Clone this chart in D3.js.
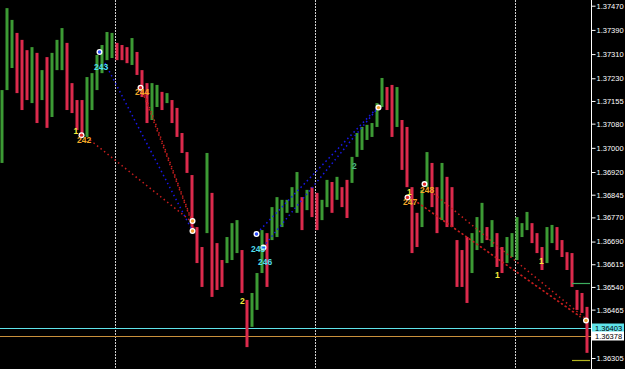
<!DOCTYPE html>
<html>
<head>
<meta charset="utf-8">
<script src="https://cdn.jsdelivr.net/npm/d3@7"></script>
<style>
  body { margin: 0; background: #000; }
  svg { display: block; }
</style>
</head>
<body>
<div id="chart-area"></div>
<script>
const WIDTH = 625
const HEIGHT = 369
const PLOT_RIGHT = 591

// bar highs / lows, one per 5px slot
const highs = [
  1.37191, 1.37462, 1.37423, 1.37380, 1.37357, 1.37323, 1.37333, 1.37314, 1.37257, 1.37300,
  1.37314, 1.37357, 1.37396, 1.37347, 1.37214, 1.37158, 1.37158, 1.37234, 1.37247, 1.37307,
  1.37340, 1.37383, 1.37380, 1.37347, 1.37340, 1.37333, 1.37363, 1.37317, 1.37257, 1.37214,
  1.37214, 1.37208, 1.37185, 1.37181, 1.37158, 1.37132, 1.37049, 1.36986, 1.36910, 1.36738,
  1.36672, 1.36983, 1.36851, 1.36685, 1.36629, 1.36705, 1.36751, 1.36761, 1.36662, 1.36497,
  1.36520, 1.36586, 1.36728, 1.36718, 1.36804, 1.36837, 1.36828, 1.36828, 1.36870, 1.36920,
  1.36837, 1.36861, 1.36870, 1.36851, 1.36828, 1.36894, 1.36887, 1.36904, 1.36870, 1.36894,
  1.36970, 1.37049, 1.37069, 1.37076, 1.37082, 1.37148, 1.37231, 1.37201, 1.37208, 1.37201,
  1.37092, 1.37069, 1.36870, 1.36785, 1.36861, 1.36986, 1.36950, 1.36870, 1.36950, 1.36904,
  1.36870, 1.36695, 1.36662, 1.36705, 1.36718, 1.36771, 1.36818, 1.36738, 1.36761, 1.36718,
  1.36672, 1.36705, 1.36718, 1.36771, 1.36751, 1.36788, 1.36751, 1.36718, 1.36672, 1.36738,
  1.36745, 1.36738, 1.36695, 1.36655, 1.36652, 1.36530, 1.36520, 1.36474
]
const lows = [
  1.36950, 1.37191, 1.37264, 1.37181, 1.37125, 1.37158, 1.37148, 1.37082, 1.37158, 1.37066,
  1.37102, 1.37257, 1.37257, 1.37125, 1.37115, 1.37059, 1.37036, 1.37036, 1.37125, 1.37191,
  1.37247, 1.37290, 1.37297, 1.37290, 1.37290, 1.37280, 1.37274, 1.37241, 1.37168, 1.37082,
  1.37092, 1.37135, 1.37125, 1.37148, 1.37082, 1.37036, 1.36983, 1.36917, 1.36718, 1.36619,
  1.36540, 1.36718, 1.36507, 1.36530, 1.36540, 1.36619, 1.36629, 1.36652, 1.36520, 1.36341,
  1.36408, 1.36464, 1.36586, 1.36540, 1.36695, 1.36705, 1.36738, 1.36785, 1.36804, 1.36785,
  1.36728, 1.36794, 1.36771, 1.36728, 1.36761, 1.36804, 1.36785, 1.36828, 1.36804, 1.36768,
  1.36884, 1.36970, 1.36993, 1.37026, 1.37036, 1.37069, 1.37135, 1.37125, 1.37036, 1.37069,
  1.36927, 1.36870, 1.36652, 1.36672, 1.36738, 1.36870, 1.36804, 1.36718, 1.36761, 1.36738,
  1.36738, 1.36540, 1.36540, 1.36487, 1.36586, 1.36662, 1.36685, 1.36695, 1.36672, 1.36606,
  1.36586, 1.36619, 1.36639, 1.36629, 1.36705, 1.36728, 1.36685, 1.36652, 1.36596, 1.36619,
  1.36685, 1.36662, 1.36639, 1.36596, 1.36540, 1.36464, 1.36454, 1.36322
]

// price axis labels
const tickPrices = [1.37470, 1.37390, 1.37310, 1.37230, 1.37155, 1.37080, 1.37000,
  1.36920, 1.36845, 1.36770, 1.36690, 1.36615, 1.36540, 1.36465, 1.36305]

// dotted period separators (bar index)
const sessionBreaks = [23, 63, 103]

// full width price lines + their boxes
const priceLines = [
  { price: 1.36403, color: "#5fe3ea" },
  { price: 1.36378, color: "#c8903c" }
]
const priceBoxes = [
  { price: 1.36403, fill: "#5fe3ea" },
  { price: 1.36378, fill: "#ffffff" }
]

// short level lines at the right edge
const levelLines = [
  { price: 1.36553, from: 114.4, to: 118, color: "#3cae5e" },
  { price: 1.36298, from: 114.4, to: 118, color: "#b4b41e" }
]

// dotted trend lines: bar index / price at both ends
const trendLines = [
  { i1: 21, p1: 1.37280, i2: 38.4, p2: 1.36728, color: "#1818e8" },
  { i1: 18, p1: 1.37026, i2: 38.4, p2: 1.36755, color: "#c81e1e" },
  { i1: 28.6, p1: 1.37191, i2: 38.4, p2: 1.36758, color: "#c81e1e" },
  { i1: 28.2, p1: 1.37198, i2: 38.8, p2: 1.36735, color: "#c81e1e" },
  { i1: 51.4, p1: 1.36718, i2: 75.6, p2: 1.37135, color: "#1818e8" },
  { i1: 52.6, p1: 1.36672, i2: 75.6, p2: 1.37132, color: "#1818e8" },
  { i1: 85.4, p1: 1.36867, i2: 117, p2: 1.36437, color: "#c81e1e" },
  { i1: 83.6, p1: 1.36818, i2: 115.6, p2: 1.36447, color: "#c81e1e" },
  { i1: 82, p1: 1.36837, i2: 116.4, p2: 1.36437, color: "#c81e1e" }
]

// signal arrows
const arrows = [
  { i: 19.9, p: 1.37317, color: "#2a4cff" },
  { i: 28.1, p: 1.37199, color: "#e02828" },
  { i: 16.3, p: 1.37042, color: "#e02828" },
  { i: 38.5, p: 1.36758, color: "#f0a030" },
  { i: 38.5, p: 1.36725, color: "#f0a030" },
  { i: 51.3, p: 1.36715, color: "#2a4cff" },
  { i: 52.7, p: 1.36670, color: "#2a4cff" },
  { i: 75.7, p: 1.37133, color: "#f0a030" },
  { i: 81.5, p: 1.36836, color: "#e02828" },
  { i: 84.9, p: 1.36880, color: "#e02828" },
  { i: 117.2, p: 1.36429, color: "#f0a030" }
]

// wave count labels (left edge index, baseline price)
const waveLabels = [
  { text: "243", i: 18.8, p: 1.37259, color: "#4fdcea" },
  { text: "242", i: 15.4, p: 1.37015, color: "#f4a828" },
  { text: "1", i: 14.7, p: 1.37047, color: "#f4ec3c" },
  { text: "244", i: 27, p: 1.37176, color: "#f4a828" },
  { text: "245", i: 50.2, p: 1.36654, color: "#4fdcea" },
  { text: "246", i: 51.6, p: 1.36614, color: "#4fdcea" },
  { text: "2", i: 48, p: 1.36484, color: "#f4ec3c" },
  { text: "2", i: 70.4, p: 1.36930, color: "#4cb884" },
  { text: "1", i: 81.4, p: 1.36845, color: "#f4ec3c" },
  { text: "247", i: 80.6, p: 1.36812, color: "#f4a828" },
  { text: "248", i: 84, p: 1.36852, color: "#f4a828" },
  { text: "1", i: 99, p: 1.36570, color: "#f4ec3c" },
  { text: "1", i: 107.8, p: 1.36616, color: "#f4ec3c" }
]

const svg = d3.select("#chart-area").append("svg")
  .attr("width", WIDTH)
  .attr("height", HEIGHT)

svg.append("rect")
  .attr("width", WIDTH)
  .attr("height", HEIGHT)
  .attr("fill", "#000")

const x = d3.scaleLinear()
  .domain([0, highs.length])
  .range([0, 590])

const y = d3.scaleLinear()
  .domain([1.36305, 1.37470])
  .range([358, 5.7])

// separators
svg.selectAll(".sep")
  .data(sessionBreaks)
  .enter().append("line")
  .attr("x1", d => Math.round(x(d)) + 0.5)
  .attr("x2", d => Math.round(x(d)) + 0.5)
  .attr("y1", 0)
  .attr("y2", HEIGHT)
  .attr("stroke", "#cfcfcf")
  .attr("stroke-dasharray", "2,1")

// price lines
svg.selectAll(".pline")
  .data(priceLines)
  .enter().append("line")
  .attr("x1", 0)
  .attr("x2", PLOT_RIGHT)
  .attr("y1", d => Math.round(y(d.price)) + 0.5)
  .attr("y2", d => Math.round(y(d.price)) + 0.5)
  .attr("stroke", d => d.color)

// bars
const bars = highs.map((h, i) => ({ i, h, l: lows[i] }))
const mid = d => (d.h + d.l) / 2

svg.selectAll(".bar")
  .data(bars)
  .enter().append("rect")
  .attr("x", d => x(d.i) + 0.5)
  .attr("width", 3)
  .attr("y", d => y(d.h))
  .attr("height", d => Math.max(1, y(d.l) - y(d.h)))
  .attr("fill", d => d.i > 0 && mid(d) < mid(bars[d.i - 1]) ? "#dc2a4c" : "#3c9a34")

// level lines
svg.selectAll(".lvl")
  .data(levelLines)
  .enter().append("line")
  .attr("x1", d => x(d.from))
  .attr("x2", d => x(d.to))
  .attr("y1", d => Math.round(y(d.price)) + 0.5)
  .attr("y2", d => Math.round(y(d.price)) + 0.5)
  .attr("stroke", d => d.color)
  .attr("stroke-width", 1.2)

// trend lines
svg.selectAll(".trend")
  .data(trendLines)
  .enter().append("line")
  .attr("x1", d => x(d.i1))
  .attr("y1", d => y(d.p1))
  .attr("x2", d => x(d.i2))
  .attr("y2", d => y(d.p2))
  .attr("stroke", d => d.color)
  .attr("stroke-width", 1.5)
  .attr("stroke-dasharray", "1.5,3")

// arrows
const arrowG = svg.selectAll(".arrow")
  .data(arrows)
  .enter().append("g")
  .attr("transform", d => `translate(${x(d.i)}, ${y(d.p)})`)

arrowG.append("circle")
  .attr("r", 3)
  .attr("fill", "#fff")
arrowG.append("circle")
  .attr("r", 1.7)
  .attr("fill", d => d.color)

// wave labels
svg.selectAll(".wave")
  .data(waveLabels)
  .enter().append("text")
  .attr("x", d => x(d.i))
  .attr("y", d => y(d.p))
  .attr("fill", d => d.color)
  .style("font-family", "Liberation Sans, Arial, sans-serif")
  .style("font-size", "8.5px")
  .style("font-weight", "bold")
  .text(d => d.text)

// right price axis
svg.append("rect")
  .attr("x", PLOT_RIGHT)
  .attr("width", WIDTH - PLOT_RIGHT)
  .attr("height", HEIGHT)
  .attr("fill", "#000")

const yAxisCall = d3.axisRight(y)
  .tickValues(tickPrices)
  .tickSize(4)
  .tickPadding(1)
  .tickFormat(d3.format(".5f"))

const axisG = svg.append("g")
  .attr("transform", `translate(${PLOT_RIGHT + 0.5}, 0)`)
  .call(yAxisCall)

axisG.select(".domain").remove()
axisG.selectAll("line").attr("stroke", "#fff")
axisG.selectAll("text")
  .attr("fill", "#fff")
  .style("font-family", "Liberation Sans, Arial, sans-serif")
  .style("font-size", "7.5px")

svg.append("line")
  .attr("x1", PLOT_RIGHT + 0.5)
  .attr("x2", PLOT_RIGHT + 0.5)
  .attr("y1", 0)
  .attr("y2", HEIGHT)
  .attr("stroke", "#fff")

// current price boxes
const boxG = svg.selectAll(".pbox")
  .data(priceBoxes)
  .enter().append("g")
  .attr("transform", d => `translate(${PLOT_RIGHT + 1}, ${Math.round(y(d.price))})`)

boxG.append("rect")
  .attr("y", -4.5)
  .attr("width", 32)
  .attr("height", 9)
  .attr("fill", d => d.fill)

boxG.append("text")
  .attr("x", 3)
  .attr("y", 3)
  .attr("fill", "#000")
  .style("font-family", "Liberation Sans, Arial, sans-serif")
  .style("font-size", "7.5px")
  .text(d => d3.format(".5f")(d.price))
</script>
</body>
</html>
